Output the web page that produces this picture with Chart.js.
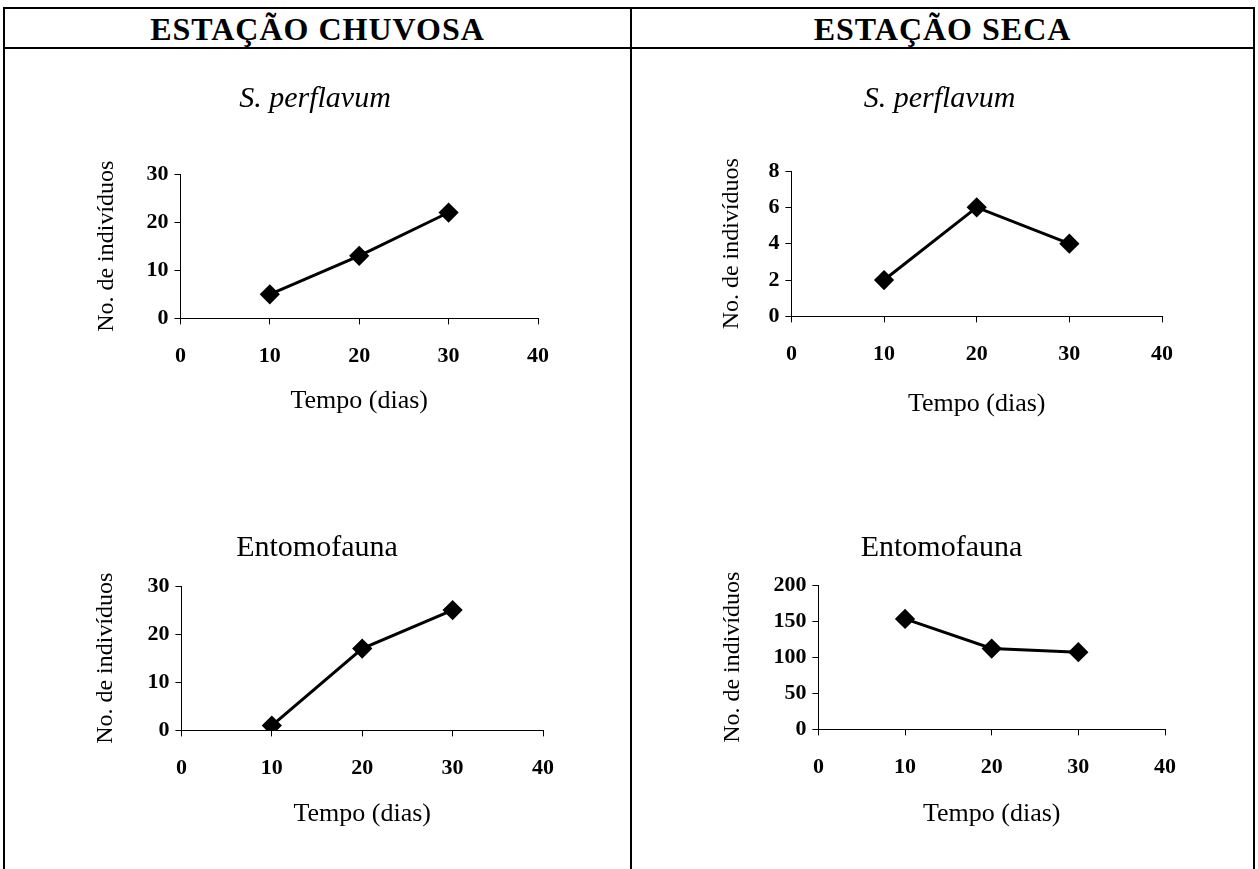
<!DOCTYPE html>
<html lang="pt">
<head>
  <meta charset="UTF-8">
  <title>Estação chuvosa e seca</title>
  <script src="https://cdn.jsdelivr.net/npm/chart.js"></script>
  <style>
    body { margin: 0; background: #fff; width: 1258px; height: 869px; position: relative; overflow: hidden; font-family: "Liberation Serif", serif; }
    .rule { position: absolute; background: #000; }
    .head { position: absolute; top: 9px; height: 39px; line-height: 40px; text-align: center; font-weight: bold; font-size: 32px; letter-spacing: 1px; }
    canvas { position: absolute; }
  </style>
</head>
<body>

<div class="rule" style="left:3px; top:7px; width:1252px; height:2px"></div>
<div class="rule" style="left:3px; top:47px; width:1252px; height:2px"></div>
<div class="rule" style="left:3px; top:7px; width:2px; height:862px"></div>
<div class="rule" style="left:630px; top:7px; width:2px; height:862px"></div>
<div class="rule" style="left:1253px; top:7px; width:2px; height:862px"></div>

<div class="head" style="left:5px; width:625px">ESTAÇÃO CHUVOSA</div>
<div class="head" style="left:632px; width:621px">ESTAÇÃO SECA</div>

<canvas id="chuvosaPerflavum"></canvas>
<canvas id="secaPerflavum"></canvas>
<canvas id="chuvosaEntomofauna"></canvas>
<canvas id="secaEntomofauna"></canvas>

<script>
  // dias de coleta e número de indivíduos
  const dias = [10, 20, 30];
  const chuvosaPerflavum = [5, 13, 22];
  const secaPerflavum = [2, 6, 4];
  const chuvosaEntomofauna = [1, 17, 25];
  const secaEntomofauna = [153, 112, 107];

  const xTicks = [0, 10, 20, 30, 40];
  const yTicksChuvosaPerflavum = [0, 10, 20, 30];
  const yTicksSecaPerflavum = [0, 2, 4, 6, 8];
  const yTicksChuvosaEntomofauna = [0, 10, 20, 30];
  const yTicksSecaEntomofauna = [0, 50, 100, 150, 200];

  const FONT = '"Liberation Serif", "Times New Roman", serif';
  const TITLE_SIZE = 30, X_TITLE_SIZE = 26, Y_TITLE_SIZE = 24, TICK_SIZE = 22;

  // box = chart area and text positions on the page
  function createChart(id, values, yTicks, title, italic, box) {
    const el = document.getElementById(id);
    const tHalf = TITLE_SIZE * 1.2 / 2;
    const yHalf = Y_TITLE_SIZE * 1.2 / 2;
    const xHalf = X_TITLE_SIZE * 1.2 / 2;
    const padRight = 40;

    const left = box.yTitleX - yHalf;
    const top = box.titleY - tHalf;
    const width = box.R + padRight - left;
    const xHeight = box.xTitleY + xHalf - box.B;
    const height = box.B + xHeight - top;

    el.width = width;
    el.height = height;
    el.style.left = left + 'px';
    el.style.top = top + 'px';

    const points = dias.map((d, i) => ({ x: d, y: values[i] }));

    new Chart(el, {
      type: 'scatter',
      data: {
        datasets: [{
          data: points,
          showLine: true,
          borderColor: '#000',
          borderWidth: 3,
          backgroundColor: '#000',
          pointStyle: 'rectRot',
          pointRadius: 8,
          pointHoverRadius: 8,
          tension: 0
        }]
      },
      options: {
        animation: false,
        responsive: false,
        layout: { padding: { left: 0, top: 0, right: padRight, bottom: 0 } },
        plugins: {
          legend: { display: false },
          tooltip: { enabled: false },
          title: {
            display: true,
            text: title,
            color: '#000',
            font: { family: FONT, size: TITLE_SIZE, style: italic ? 'italic' : 'normal', weight: 'normal' },
            padding: { top: 0, bottom: box.T - top - 2 * tHalf }
          }
        },
        scales: {
          x: {
            type: 'linear',
            min: xTicks[0],
            max: xTicks[xTicks.length - 1],
            afterFit: s => { s.height = xHeight; },
            afterBuildTicks: s => { s.ticks = xTicks.map(v => ({ value: v })); },
            grid: { drawOnChartArea: false, drawTicks: true, tickLength: 6, color: '#000' },
            border: { display: true, color: '#000', width: 1 },
            ticks: { color: '#000', padding: 19, font: { family: FONT, size: TICK_SIZE, weight: 'bold' } },
            title: {
              display: true,
              text: 'Tempo (dias)',
              color: '#000',
              padding: 0,
              font: { family: FONT, size: X_TITLE_SIZE }
            }
          },
          y: {
            type: 'linear',
            min: yTicks[0],
            max: yTicks[yTicks.length - 1],
            afterFit: s => { s.width = box.L - left; },
            afterBuildTicks: s => { s.ticks = yTicks.map(v => ({ value: v })); },
            grid: { drawOnChartArea: false, drawTicks: true, tickLength: 6, color: '#000' },
            border: { display: true, color: '#000', width: 1 },
            ticks: { color: '#000', padding: 6, font: { family: FONT, size: TICK_SIZE, weight: 'bold' } },
            title: {
              display: true,
              text: 'No. de indivíduos',
              color: '#000',
              padding: 0,
              font: { family: FONT, size: Y_TITLE_SIZE }
            }
          }
        }
      }
    });
  }

  createChart('chuvosaPerflavum', chuvosaPerflavum, yTicksChuvosaPerflavum, 'S. perflavum', true,
    { L: 180, R: 538, T: 174, B: 319, yTitleX: 106, xTitleY: 402, titleY: 99 });
  createChart('secaPerflavum', secaPerflavum, yTicksSecaPerflavum, 'S. perflavum', true,
    { L: 791, R: 1162, T: 171, B: 317, yTitleX: 731, xTitleY: 405, titleY: 99 });
  createChart('chuvosaEntomofauna', chuvosaEntomofauna, yTicksChuvosaEntomofauna, 'Entomofauna', false,
    { L: 181, R: 543, T: 586, B: 731, yTitleX: 105, xTitleY: 815, titleY: 548 });
  createChart('secaEntomofauna', secaEntomofauna, yTicksSecaEntomofauna, 'Entomofauna', false,
    { L: 818, R: 1165, T: 585, B: 730, yTitleX: 732, xTitleY: 815, titleY: 548 });
</script>
</body>
</html>
